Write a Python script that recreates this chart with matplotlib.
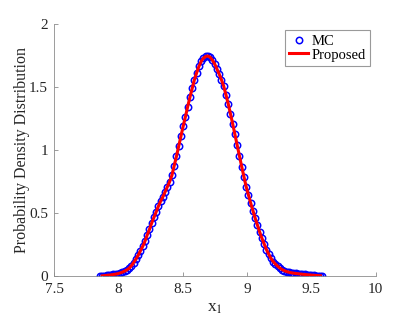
import matplotlib
matplotlib.use("Agg")
import matplotlib.pyplot as plt

plt.rcParams['font.family'] = ['Liberation Serif', 'DejaVu Serif']
plt.rcParams['mathtext.fontset'] = 'stix'

# Sample positions (x_1) and densities
x_vals = [7.855, 7.8725, 7.890, 7.9075, 7.925, 7.9425, 7.960, 7.9775, 7.995, 8.0125,
          8.030, 8.0475, 8.065, 8.0825, 8.100, 8.1175, 8.135, 8.1525, 8.170, 8.1875,
          8.205, 8.2225, 8.240, 8.2575, 8.275, 8.2925, 8.310, 8.3275, 8.345, 8.3625,
          8.380, 8.3975, 8.415, 8.4325, 8.450, 8.4675, 8.485, 8.5025, 8.520, 8.5375,
          8.555, 8.5725, 8.590, 8.6075, 8.625, 8.6425, 8.660, 8.6775, 8.695, 8.7125,
          8.730, 8.7475, 8.765, 8.7825, 8.800, 8.8175, 8.835, 8.8525, 8.870, 8.8875,
          8.905, 8.9225, 8.940, 8.9575, 8.975, 8.9925, 9.010, 9.0275, 9.045, 9.0625,
          9.080, 9.0975, 9.115, 9.1325, 9.150, 9.1675, 9.185, 9.2025, 9.220, 9.2375,
          9.255, 9.2725, 9.290, 9.3075, 9.325, 9.3425, 9.360, 9.3775, 9.395, 9.4125,
          9.430, 9.4475, 9.465, 9.4825, 9.500, 9.5175, 9.535, 9.5525, 9.570, 9.5825]

pdf_mc = [0.000, 0.001, 0.003, 0.005, 0.007, 0.009, 0.012, 0.015, 0.019, 0.024,
          0.031, 0.039, 0.049, 0.062, 0.082, 0.107, 0.135, 0.165, 0.200, 0.235,
          0.275, 0.325, 0.370, 0.420, 0.465, 0.510, 0.555, 0.595, 0.630, 0.670,
          0.710, 0.750, 0.800, 0.875, 0.950, 1.030, 1.110, 1.190, 1.265, 1.345,
          1.420, 1.490, 1.560, 1.615, 1.665, 1.705, 1.730, 1.745, 1.748, 1.738,
          1.715, 1.685, 1.645, 1.605, 1.560, 1.510, 1.440, 1.370, 1.290, 1.210,
          1.125, 1.040, 0.955, 0.870, 0.790, 0.710, 0.645, 0.580, 0.520, 0.460,
          0.405, 0.350, 0.300, 0.255, 0.210, 0.175, 0.140, 0.115, 0.095, 0.078,
          0.063, 0.051, 0.042, 0.035, 0.030, 0.026, 0.023, 0.020, 0.018, 0.016,
          0.014, 0.012, 0.010, 0.009, 0.007, 0.006, 0.004, 0.003, 0.002, 0.001]

pdf_proposed = pdf_mc

x_ticks = [7.5, 8, 8.5, 9, 9.5, 10]
x_tick_labels = ['7.5', '8', '8.5', '9', '9.5', '10']
y_ticks = [0, 0.5, 1, 1.5, 2]
y_tick_labels = ['0', '0.5', '1', '1.5', '2']

fig = plt.figure(figsize=(4.15, 3.23), dpi=100)
ax = fig.add_axes([0.1308, 0.1455, 0.7745, 0.7793])

ax.plot(x_vals, pdf_mc, linestyle='none', marker='o', markersize=4.6,
        markerfacecolor='none', markeredgecolor='#0000ff', markeredgewidth=1.1,
        label='MC')
ax.plot(x_vals[1:-1], pdf_proposed[1:-1], color='#ff0000', linewidth=2.2, label='Proposed')

ax.set_xlim(7.5, 10)
ax.set_ylim(0, 2)
ax.set_xticks(x_ticks)
ax.set_xticklabels(x_tick_labels)
ax.set_yticks(y_ticks)
ax.set_yticklabels(y_tick_labels)

for s in ['top', 'right']:
    ax.spines[s].set_visible(False)
for s in ['bottom', 'left']:
    ax.spines[s].set_color('#8c8c8c')
    ax.spines[s].set_linewidth(0.6)
ax.tick_params(direction='in', length=3, width=0.6, color='#8c8c8c',
               labelsize=11, labelcolor='#262626')
ax.tick_params(axis='x', pad=5)
ax.tick_params(axis='y', pad=4.5)

ax.set_xlabel(r'x$_{1}$', fontsize=12.5, color='#262626', labelpad=3)
ax.set_ylabel('Probability Density Distribution', fontsize=11.5, color='#262626', labelpad=-1)

leg = ax.legend(loc='upper right', bbox_to_anchor=(0.982, 0.977), borderaxespad=0,
                fancybox=False, framealpha=1, edgecolor='#9a9a9a', fontsize=10.5,
                handlelength=1.3, handletextpad=0.2, borderpad=0.3, labelspacing=0.05)
leg.get_frame().set_linewidth(0.8)

fig.savefig('out.png', dpi=100)
